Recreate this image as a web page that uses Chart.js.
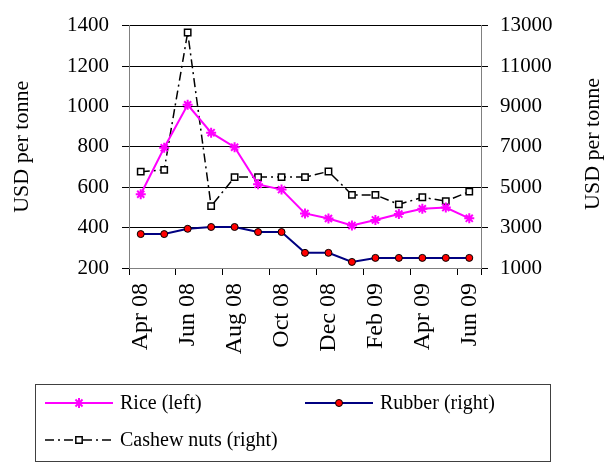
<!DOCTYPE html>
<html>
<head>
<meta charset="utf-8">
<script src="https://cdn.jsdelivr.net/npm/chart.js@4/dist/chart.umd.min.js"></script>
<style>
  html, body { margin: 0; padding: 0; background: #fff; }
</style>
</head>
<body>
<canvas id="myChart" width="607" height="464"></canvas>
<script>
// data
const months = ['Apr 08', 'May 08', 'Jun 08', 'Jul 08', 'Aug 08', 'Sep 08', 'Oct 08', 'Nov 08',
                'Dec 08', 'Jan 09', 'Feb 09', 'Mar 09', 'Apr 09', 'May 09', 'Jun 09'];
const rice = [565, 795, 1008, 870, 798, 614, 588, 470, 445, 410, 438, 467, 493, 499, 446];
const rubber = [2680, 2680, 2940, 3030, 3030, 2780, 2780, 1750, 1750, 1300, 1500, 1500, 1500, 1500, 1500];
const cashew = [5770, 5860, 12660, 4060, 5500, 5500, 5500, 5500, 5780, 4620, 4620, 4150, 4500, 4310, 4780];
const leftTicks = [200, 400, 600, 800, 1000, 1200, 1400];
const rightTicks = [1000, 3000, 5000, 7000, 9000, 11000, 13000];
const axisTitle = 'USD per tonne';

Chart.defaults.font.family = '"Liberation Serif", "Times New Roman", serif';
Chart.defaults.color = '#000';

// legend in a box under the chart + right axis title reading upwards
const extras = {
    id: 'extras',
    afterDraw(chart) {
        const ctx = chart.ctx;
        ctx.save();
        ctx.strokeStyle = '#404040';
        ctx.lineWidth = 1;
        ctx.strokeRect(35.5, 384.5, 515, 77);

        const slots = [[45, 403], [305, 403], [45, 440]];
        chart.data.datasets.forEach((ds, i) => {
            const [x, y] = slots[i];
            ctx.beginPath();
            ctx.setLineDash(ds.borderDash || []);
            ctx.strokeStyle = ds.borderColor;
            ctx.lineWidth = ds.borderWidth;
            ctx.moveTo(x, y);
            ctx.lineTo(x + 68, y);
            ctx.stroke();
            ctx.setLineDash([]);
            ctx.fillStyle = ds.pointBackgroundColor;
            ctx.strokeStyle = ds.pointBorderColor;
            ctx.lineWidth = ds.pointBorderWidth;
            Chart.helpers.drawPoint(ctx, {
                pointStyle: ds.pointStyle, radius: ds.pointRadius,
                rotation: 0, borderWidth: ds.pointBorderWidth
            }, x + 34, y);
            ctx.fillStyle = '#000';
            ctx.font = '20px "Liberation Serif"';
            ctx.textBaseline = 'middle';
            ctx.textAlign = 'left';
            ctx.fillText(ds.label, x + 75, y + 1);
        });

        ctx.translate(593, 144);
        ctx.rotate(-Math.PI / 2);
        ctx.textAlign = 'center';
        ctx.textBaseline = 'middle';
        ctx.font = '22px "Liberation Serif"';
        ctx.fillText(axisTitle, 0, 0);
        ctx.restore();
    }
};

var ctx = document.getElementById('myChart');
var myChart = new Chart(ctx, {
    type: 'line',
    data: {
        labels: months,
        datasets: [
            {
                label: 'Rice (left)',
                data: rice,
                yAxisID: 'yL',
                borderColor: '#FF00FF',
                borderWidth: 2,
                pointStyle: 'star',
                pointRadius: 5,
                pointBackgroundColor: '#FF00FF',
                pointBorderColor: '#FF00FF',
                pointBorderWidth: 2,
                order: 1
            },
            {
                label: 'Rubber (right)',
                data: rubber,
                yAxisID: 'yR',
                borderColor: '#000080',
                borderWidth: 2,
                pointStyle: 'circle',
                pointRadius: 3.5,
                pointBackgroundColor: '#FF0000',
                pointBorderColor: '#000000',
                pointBorderWidth: 1,
                order: 2
            },
            {
                label: 'Cashew nuts (right)',
                data: cashew,
                yAxisID: 'yR',
                borderColor: '#000000',
                borderWidth: 1.5,
                borderDash: [9, 4, 2, 4],
                pointStyle: 'rect',
                pointRadius: 4.5,
                pointBackgroundColor: '#FFFFFF',
                pointBorderColor: '#000000',
                pointBorderWidth: 1.5,
                order: 3
            }
        ]
    },
    options: {
        responsive: false,
        animation: false,
        layout: { padding: { top: 18, left: 0, right: 0, bottom: 0 } },
        plugins: { legend: { display: false }, tooltip: { enabled: false } },
        scales: {
            x: {
                offset: true,
                grid: {
                    offset: true,
                    drawOnChartArea: false,
                    tickLength: 7,
                    color: c => (c.index % 2 ? 'rgba(0,0,0,0)' : '#000')
                },
                border: { color: '#808080' },
                ticks: {
                    autoSkip: false,
                    maxRotation: 90,
                    minRotation: 90,
                    padding: 8,
                    font: { size: 24 },
                    callback: (v, i) => (i % 2 ? '' : months[i])
                },
                afterFit: s => { s.height = 196; }
            },
            yL: {
                position: 'left',
                min: 200,
                max: 1400,
                afterBuildTicks: s => { s.ticks = leftTicks.map(v => ({ value: v })); },
                grid: { color: '#000', lineWidth: 1, tickLength: 7 },
                border: { color: '#808080' },
                ticks: { padding: 13, font: { size: 21 }, callback: v => String(v) },
                title: { display: true, text: axisTitle, font: { size: 22 }, padding: { top: 9, bottom: 0 } },
                afterFit: s => { s.width = 129; }
            },
            yR: {
                position: 'right',
                min: 1000,
                max: 13000,
                afterBuildTicks: s => { s.ticks = rightTicks.map(v => ({ value: v })); },
                grid: { drawOnChartArea: false, color: '#000', tickLength: 7 },
                border: { color: '#808080' },
                ticks: { padding: 12, font: { size: 21 }, callback: v => String(v) },
                afterFit: s => { s.width = 126; }
            }
        }
    },
    plugins: [extras]
});
</script>
</body>
</html>
